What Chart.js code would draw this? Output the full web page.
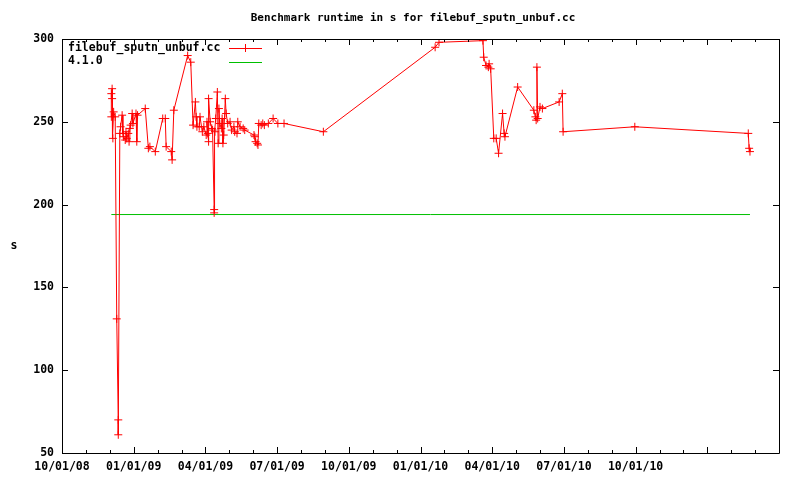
<!DOCTYPE html>
<html>
<head>
<meta charset="utf-8">
<script src="https://cdn.jsdelivr.net/npm/chart.js@4.4.0/dist/chart.umd.min.js"></script>
<style>
  html, body { margin: 0; padding: 0; background: #fff; }
</style>
</head>
<body>
<canvas id="runtime-chart" width="800" height="480"></canvas>
<script>
// runs of filebuf_sputn_unbuf.cc (date, seconds)
const runDates = [
  '2008-12-03', '2008-12-03', '2008-12-04', '2008-12-04', '2008-12-05', '2008-12-06', '2008-12-08',
  '2008-12-10', '2008-12-12', '2008-12-12', '2008-12-14', '2008-12-15', '2008-12-17', '2008-12-18',
  '2008-12-19', '2008-12-21', '2008-12-22', '2008-12-23', '2008-12-25', '2008-12-26', '2008-12-27',
  '2008-12-28', '2008-12-30', '2008-12-31', '2009-01-04', '2009-01-05', '2009-01-06', '2009-01-16',
  '2009-01-20', '2009-01-22', '2009-01-29', '2009-02-07', '2009-02-10', '2009-02-11', '2009-02-17',
  '2009-02-18', '2009-02-20', '2009-03-09', '2009-03-13', '2009-03-16', '2009-03-19', '2009-03-20',
  '2009-03-21', '2009-03-24', '2009-03-25', '2009-03-28', '2009-03-30', '2009-04-02', '2009-04-03',
  '2009-04-04', '2009-04-05', '2009-04-05', '2009-04-07', '2009-04-09', '2009-04-10', '2009-04-12',
  '2009-04-12', '2009-04-13', '2009-04-14', '2009-04-16', '2009-04-17', '2009-04-18', '2009-04-19',
  '2009-04-21', '2009-04-22', '2009-04-23', '2009-04-24', '2009-04-26', '2009-04-27', '2009-04-29',
  '2009-05-02', '2009-05-04', '2009-05-07', '2009-05-08', '2009-05-11', '2009-05-12', '2009-05-15',
  '2009-05-19', '2009-05-21', '2009-06-02', '2009-06-03', '2009-06-04', '2009-06-06', '2009-06-07',
  '2009-06-08', '2009-06-11', '2009-06-13', '2009-06-15', '2009-06-20', '2009-06-26', '2009-07-02',
  '2009-07-10', '2009-08-30', '2010-01-20', '2010-01-25', '2010-03-20', '2010-03-21', '2010-03-24',
  '2010-03-27', '2010-03-28', '2010-03-30', '2010-04-03', '2010-04-06', '2010-04-09', '2010-04-14',
  '2010-04-16', '2010-04-17', '2010-05-03', '2010-05-24', '2010-05-26', '2010-05-27', '2010-05-28',
  '2010-05-29', '2010-06-01', '2010-06-04', '2010-06-25', '2010-06-29', '2010-06-30', '2010-09-30',
  '2011-02-21', '2011-02-22', '2011-02-23'
];
const runTimes = [
  253, 267, 270, 264, 240, 256, 253,
  131, 70, 61, 243, 247, 254, 243,
  241, 239, 244, 240, 243, 238, 246,
  248, 255, 249, 255, 238, 254, 258,
  234, 235, 232, 252, 252, 235, 232,
  227, 257, 290, 286, 248, 262, 253,
  247, 247, 253, 244, 247, 242, 250,
  243, 238, 264, 250, 246, 245, 197,
  195, 244, 252, 268, 237, 258, 249,
  246, 252, 237, 242, 264, 255, 249,
  250, 245, 247, 244, 243, 250, 247,
  246, 245, 242, 241, 238, 237, 236,
  249, 248, 249, 248, 249, 252, 249,
  249, 244, 295, 298, 299, 289, 284,
  283, 285, 282, 240, 240, 231, 255,
  243, 241, 271, 257, 253, 251, 283,
  252, 259, 258, 262, 267, 244, 247,
  243, 234, 232
];
// 4.1.0 reference
const baselineDates = ['2008-12-03', '2011-02-23'];
const baselineTimes = [194, 194];

// axis ticks (x in months since 10/01/08)
const xTickMonths = [0, 3, 6, 9, 12, 15, 18, 21, 24, 27, 30];
const xTickLabels = ['10/01/08', '01/01/09', '04/01/09', '07/01/09', '10/01/09', '01/01/10', '04/01/10', '07/01/10', '10/01/10', '', ''];
const yTicks = [50, 100, 150, 200, 250, 300];

const TITLE = 'Benchmark runtime in s for filebuf_sputn_unbuf.cc';
const FONT = '"DejaVu Sans Mono", "Liberation Mono", monospace';
const RED = '#ff0000';
const GREEN = '#00c000';

const toMonths = (s) => {
  const [y, m, d] = s.split('-').map(Number);
  const days = new Date(Date.UTC(y, m, 0)).getUTCDate();
  return (y - 2008) * 12 + (m - 10) + (d - 1) / days;
};
const runPoints = runDates.map((d, i) => ({ x: toMonths(d), y: runTimes[i] }));
const basePoints = baselineDates.map((d, i) => ({ x: toMonths(d), y: baselineTimes[i] }));

//border, inward ticks, titles and key like gnuplot
const gnuplotFrame = {
  id: 'gnuplotFrame',
  afterDatasetsDraw(chart) {
    const { ctx, chartArea: a, scales } = chart;
    ctx.save();
    ctx.strokeStyle = '#000';
    ctx.lineWidth = 1;
    ctx.beginPath();
    ctx.rect(Math.round(a.left) + 0.5, Math.round(a.top) + 0.5, Math.round(a.right - a.left), Math.round(a.bottom - a.top));
    for (let m = 0; m <= 30; m++) {
      const x = Math.round(scales.x.getPixelForValue(m)) + 0.5;
      const len = m % 3 === 0 ? 6 : 3;
      ctx.moveTo(x, a.bottom);
      ctx.lineTo(x, a.bottom - len);
      ctx.moveTo(x, a.top);
      ctx.lineTo(x, a.top + len);
    }
    yTicks.forEach((v) => {
      const y = Math.round(scales.y.getPixelForValue(v)) + 0.5;
      ctx.moveTo(a.left, y);
      ctx.lineTo(a.left + 6, y);
      ctx.moveTo(a.right, y);
      ctx.lineTo(a.right - 6, y);
    });
    ctx.stroke();

    ctx.fillStyle = '#000';
    ctx.textBaseline = 'middle';
    ctx.textAlign = 'center';
    ctx.font = 'bold 11px ' + FONT;
    ctx.fillText(TITLE, 413, 18);
    ctx.font = 'bold 11.5px ' + FONT;
    ctx.fillText('s', 14, (a.top + a.bottom) / 2);

    // key
    const keys = [
      { text: 'filebuf_sputn_unbuf.cc', color: RED, cross: true },
      { text: '4.1.0', color: GREEN, cross: false }
    ];
    ctx.textAlign = 'left';
    keys.forEach((k, i) => {
      const y = 48 + i * 13.5;
      ctx.fillStyle = '#000';
      ctx.fillText(k.text, 68, y);
      ctx.strokeStyle = k.color;
      ctx.beginPath();
      ctx.moveTo(229, Math.round(y) + 0.5);
      ctx.lineTo(262, Math.round(y) + 0.5);
      if (k.cross) {
        ctx.moveTo(245.5, y - 4);
        ctx.lineTo(245.5, y + 4);
      }
      ctx.stroke();
    });
    ctx.restore();
  }
};

const ctx = document.querySelector('#runtime-chart').getContext('2d');
const runtimeChart = new Chart(ctx, {
  type: 'line',
  data: {
    datasets: [
      {
        label: 'filebuf_sputn_unbuf.cc',
        data: runPoints,
        borderColor: RED,
        borderWidth: 1,
        tension: 0,
        fill: false,
        pointStyle: 'cross',
        pointRadius: 4,
        pointBorderWidth: 1,
        pointBorderColor: RED
      },
      {
        label: '4.1.0',
        data: basePoints,
        borderColor: GREEN,
        borderWidth: 1,
        tension: 0,
        fill: false,
        pointRadius: 0
      }
    ]
  },
  options: {
    responsive: false,
    animation: false,
    devicePixelRatio: 1,
    layout: { padding: { left: 0, right: 21, top: 39, bottom: 0 } },
    plugins: {
      legend: { display: false },
      tooltip: { enabled: false },
      title: { display: false }
    },
    scales: {
      x: {
        type: 'linear',
        min: 0,
        max: 30,
        grid: { display: false, drawTicks: false },
        border: { display: false },
        ticks: {
          color: '#000',
          font: { family: FONT, size: 11.5, weight: 'bold' },
          padding: 7,
          maxRotation: 0,
          autoSkip: false,
          callback: (v) => xTickLabels[xTickMonths.indexOf(v)] || ''
        },
        afterBuildTicks: (s) => { s.ticks = xTickMonths.map((v) => ({ value: v })); },
        afterFit: (s) => { s.height = 27; }
      },
      y: {
        min: 50,
        max: 300,
        grid: { display: false, drawTicks: false },
        border: { display: false },
        ticks: {
          color: '#000',
          font: { family: FONT, size: 11.5, weight: 'bold' },
          padding: 8
        },
        afterBuildTicks: (s) => { s.ticks = yTicks.map((v) => ({ value: v })); },
        afterFit: (s) => { s.width = 62; }
      }
    }
  },
  plugins: [gnuplotFrame]
});
</script>
</body>
</html>
